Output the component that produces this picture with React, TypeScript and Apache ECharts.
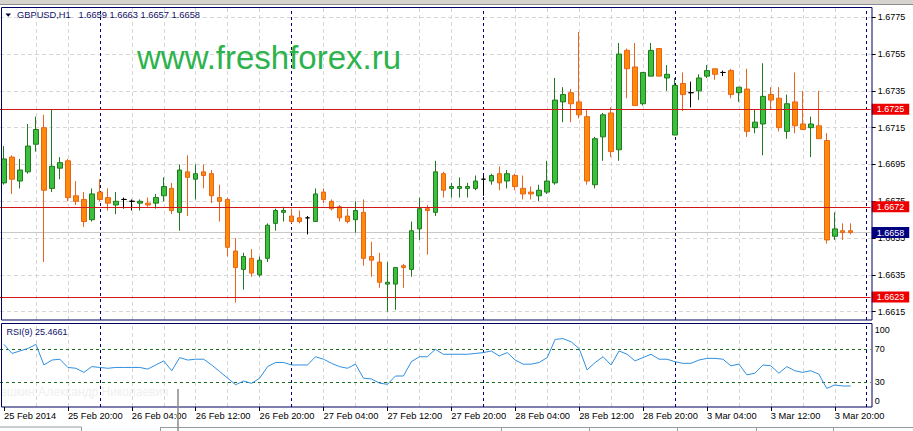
import React, { useEffect, useRef } from 'react';
import * as echarts from 'echarts';

const SYMBOL = 'GBPUSD,H1';
const RSI_NAME = 'RSI(9)';
const WATERMARK = 'www.freshforex.ru';
const FAINT_TEXT = 'ашкин Александр Николаевич';

const TIME_LABELS = [
  '25 Feb 2014', '25 Feb 20:00', '26 Feb 04:00', '26 Feb 12:00', '26 Feb 20:00',
  '27 Feb 04:00', '27 Feb 12:00', '27 Feb 20:00', '28 Feb 04:00', '28 Feb 12:00',
  '28 Feb 20:00', '3 Mar 04:00', '3 Mar 12:00', '3 Mar 20:00',
];

const OPEN = [
  1.6685, 1.6699, 1.6686, 1.6691, 1.6706, 1.6715, 1.6682, 1.6693, 1.6697, 1.6678,
  1.6676, 1.6665, 1.6680, 1.6677, 1.6673, 1.6676, 1.6675, 1.6674, 1.6674, 1.6674,
  1.6678, 1.6682, 1.6669, 1.6691, 1.6687, 1.6691, 1.6690, 1.6677, 1.6676, 1.6648,
  1.6638, 1.6644, 1.6635, 1.6644, 1.6663, 1.6669, 1.6667, 1.6666, 1.6666, 1.6664,
  1.6680, 1.6675, 1.6672, 1.6667, 1.6665, 1.6669, 1.6645, 1.6642, 1.6630, 1.6630,
  1.6640, 1.6638, 1.6660, 1.6671, 1.6669, 1.6690, 1.6682, 1.6682, 1.6682, 1.6682,
  1.6687, 1.6686, 1.6690, 1.6686, 1.6689, 1.6682, 1.6680, 1.6678, 1.6680, 1.6685,
  1.6729, 1.6734, 1.6729, 1.6721, 1.6684, 1.6710, 1.6723, 1.6703, 1.6757, 1.6748,
  1.6728, 1.6743, 1.6758, 1.6742, 1.6711, 1.6739, 1.6734, 1.6735, 1.6743, 1.6747,
  1.6745, 1.6746, 1.6734, 1.6736, 1.6715, 1.6717, 1.6733, 1.6731, 1.6713, 1.6729,
  1.6717, 1.6715, 1.6716, 1.6708, 1.6656, 1.6659, 1.6659,
];
const HIGH = [
  1.6705, 1.6700, 1.6698, 1.6717, 1.6721, 1.6722, 1.6725, 1.6699, 1.6698, 1.6686,
  1.6680, 1.6682, 1.6687, 1.6682, 1.6680, 1.6677, 1.6676, 1.6676, 1.6677, 1.6679,
  1.6688, 1.6685, 1.6695, 1.6700, 1.6695, 1.6695, 1.6692, 1.6684, 1.6677, 1.6655,
  1.6647, 1.6649, 1.6645, 1.6663, 1.6671, 1.6672, 1.6671, 1.6670, 1.6667, 1.6682,
  1.6682, 1.6676, 1.6673, 1.6671, 1.6675, 1.6676, 1.6653, 1.6647, 1.6642, 1.6639,
  1.6641, 1.6664, 1.6677, 1.6673, 1.6697, 1.6691, 1.6685, 1.6688, 1.6685, 1.6689,
  1.6689, 1.6690, 1.6694, 1.6692, 1.6690, 1.6689, 1.6683, 1.6684, 1.6697, 1.6742,
  1.6737, 1.6736, 1.6767, 1.6725, 1.6710, 1.6723, 1.6726, 1.6761, 1.6758, 1.6761,
  1.6745, 1.6761, 1.6758, 1.6749, 1.6742, 1.6745, 1.6740, 1.6744, 1.6749, 1.6747,
  1.6746, 1.6747, 1.6737, 1.6747, 1.6725, 1.6750, 1.6737, 1.6737, 1.6733, 1.6745,
  1.6735, 1.6721, 1.6735, 1.6712, 1.6669, 1.6663, 1.6663,
];
const LOW = [
  1.6684, 1.6679, 1.6682, 1.6690, 1.6702, 1.6642, 1.6680, 1.6687, 1.6675, 1.6673,
  1.6661, 1.6664, 1.6675, 1.6670, 1.6668, 1.6671, 1.6670, 1.6670, 1.6672, 1.6671,
  1.6675, 1.6668, 1.6659, 1.6667, 1.6676, 1.6682, 1.6674, 1.6664, 1.6645, 1.6620,
  1.6627, 1.6634, 1.6634, 1.6642, 1.6659, 1.6664, 1.6663, 1.6663, 1.6657, 1.6664,
  1.6674, 1.6670, 1.6664, 1.6663, 1.6658, 1.6640, 1.6634, 1.6628, 1.6615, 1.6616,
  1.6628, 1.6634, 1.6654, 1.6646, 1.6667, 1.6677, 1.6677, 1.6677, 1.6677, 1.6681,
  1.6678, 1.6684, 1.6681, 1.6682, 1.6681, 1.6676, 1.6676, 1.6675, 1.6679, 1.6684,
  1.6718, 1.6718, 1.6720, 1.6684, 1.6682, 1.6697, 1.6699, 1.6697, 1.6731, 1.6727,
  1.6727, 1.6743, 1.6743, 1.6735, 1.6711, 1.6724, 1.6726, 1.6730, 1.6742, 1.6741,
  1.6743, 1.6731, 1.6729, 1.6710, 1.6712, 1.6700, 1.6725, 1.6713, 1.6709, 1.6712,
  1.6714, 1.6699, 1.6709, 1.6652, 1.6654, 1.6654, 1.6657,
];
const CLOSE = [
  1.6698, 1.6687, 1.6692, 1.6705, 1.6714, 1.6681, 1.6694, 1.6696, 1.6677, 1.6675,
  1.6664, 1.6679, 1.6676, 1.6674, 1.6675, 1.6676, 1.6675, 1.6675, 1.6673, 1.6677,
  1.6683, 1.6670, 1.6692, 1.6688, 1.6690, 1.6689, 1.6678, 1.6675, 1.6650, 1.6639,
  1.6645, 1.6636, 1.6643, 1.6662, 1.6670, 1.6670, 1.6664, 1.6664, 1.6666, 1.6679,
  1.6676, 1.6671, 1.6666, 1.6664, 1.6670, 1.6644, 1.6643, 1.6631, 1.6631, 1.6639,
  1.6639, 1.6659, 1.6671, 1.6670, 1.6691, 1.6681, 1.6683, 1.6683, 1.6683, 1.6686,
  1.6687, 1.6689, 1.6685, 1.6690, 1.6683, 1.6679, 1.6679, 1.6681, 1.6686, 1.6730,
  1.6733, 1.6728, 1.6722, 1.6686, 1.6709, 1.6722, 1.6702, 1.6755, 1.6747, 1.6727,
  1.6745, 1.6757, 1.6743, 1.6744, 1.6738, 1.6733, 1.6734, 1.6742, 1.6746, 1.6744,
  1.6745, 1.6733, 1.6737, 1.6713, 1.6718, 1.6732, 1.6730, 1.6715, 1.6728, 1.6716,
  1.6714, 1.6717, 1.6709, 1.6654, 1.6660, 1.6658, 1.6658,
];

const RSI = [
  76, 65, 68, 71, 76, 51, 57, 58, 48, 47,
  42, 49, 48, 47, 48, 48, 48, 48, 46, 51,
  56, 44, 60, 57, 58, 58, 51, 43, 35, 27,
  31.5, 28.7, 35, 49, 54, 54, 51, 51, 51, 61,
  58, 53, 49, 47, 52, 35, 34, 29, 27.5, 37.6,
  37.6, 55, 61, 61, 70, 64, 64, 64, 64, 65,
  66, 68, 62, 66, 57, 52, 52, 54, 60, 82,
  83, 79, 71, 45, 54, 61, 51, 68, 64, 56,
  60, 64, 58, 58, 55, 53, 53, 57, 59, 59,
  58, 50, 52, 39, 41, 51, 50, 41, 49, 44,
  42, 44, 40, 22.6, 26.7, 25.5, 25.4661,
];

const PRICE_TICKS = [1.6615, 1.6635, 1.6655, 1.6675, 1.6695, 1.6715, 1.6735, 1.6755, 1.6775];
const RSI_TICKS = [0, 30, 70, 100];
const RSI_LEVELS = [70, 30];
const LEVELS = [1.6725, 1.6672, 1.6623];
const BID = 1.6658;

const SLOTS = 109; // bar slots including the empty chart shift on the right
const BARS_PER_LABEL = 8;
const BARS_PER_GRID = 4;
const BARS_PER_DAY = 24;
const DAY_OFFSET = 12;

const FONT = "'Liberation Sans', Arial, sans-serif";
const NAVY = '#10106a';
const NB = '\u00a0';
const LEVEL_RED = '#d01818';

export default function App() {
  const ref = useRef<HTMLDivElement>(null);

  useEffect(() => {
    document.body.style.margin = '0';
    if (!ref.current) return;
    const chart = echarts.init(ref.current, undefined, { renderer: 'svg' });

    const cats = Array.from({ length: SLOTS }, (_, i) =>
      i % BARS_PER_LABEL === 0 && TIME_LABELS[i / BARS_PER_LABEL] ? TIME_LABELS[i / BARS_PER_LABEL] : `#${i}`
    );
    const showLabel = (i: number) => i % BARS_PER_LABEL === 0 && i / BARS_PER_LABEL < TIME_LABELS.length;
    const candles = OPEN.map((o, i) => [o, CLOSE[i], LOW[i], HIGH[i]]);

    const vGrid: any[] = [];
    for (let i = BARS_PER_GRID; i < SLOTS; i += BARS_PER_GRID) {
      const day = i % BARS_PER_DAY === DAY_OFFSET;
      vGrid.push({
        xAxis: i,
        lineStyle: day
          ? { color: '#000070', type: [3, 3], width: 1 }
          : { color: '#d6d6d6', type: [4, 3], width: 1 },
        label: { show: false },
      });
    }

    const hGrid = PRICE_TICKS.map((v) => ({
      yAxis: v,
      lineStyle: { color: '#d6d6d6', type: [4, 3], width: 1 },
      label: { show: false },
    }));

    const boxLabel = (bg: string) => ({
      show: true,
      position: 'end',
      distance: 1,
      formatter: (p: any) => Number(p.value).toFixed(4),
      backgroundColor: bg,
      color: '#ffffff',
      fontFamily: FONT,
      fontSize: 9,
      lineHeight: 10,
      padding: [1, 5, 0, 5],
    });

    const levelLines = LEVELS.map((v) => ({
      yAxis: v,
      lineStyle: { color: LEVEL_RED, type: 'solid', width: 1, opacity: 1 },
      label: boxLabel('#ee0000'),
    }));
    const bidLine = {
      yAxis: BID,
      lineStyle: { color: '#c8c8c8', type: 'solid', width: 1 },
      label: boxLabel('#000080'),
    };

    const rsiLevelLines = RSI_LEVELS.map((v) => ({
      yAxis: v,
      lineStyle: { color: '#1f6e1f', type: [3, 3], width: 1 },
      label: { show: false },
    }));

    const tickText = { color: '#000000', fontFamily: FONT, fontSize: 9 };
    const last = OPEN.length - 1;
    const header = `${SYMBOL}${NB}${NB}${NB}${OPEN[last].toFixed(4)}${NB}${HIGH[last].toFixed(4)}${NB}${LOW[last].toFixed(4)}${NB}${CLOSE[last].toFixed(4)}`;

    const option: any = {
      animation: false,
      backgroundColor: '#ffffff',
      grid: [
        { left: -1.3, top: 7.3, width: SLOTS * 8, height: 312.7 },
        { left: -1.3, top: 324.6, width: SLOTS * 8, height: 82.4 },
      ],
      xAxis: [
        {
          type: 'category', gridIndex: 0, data: cats, boundaryGap: true,
          axisLine: { show: false }, axisTick: { show: false }, axisLabel: { show: false }, splitLine: { show: false },
        },
        {
          type: 'category', gridIndex: 1, data: cats, boundaryGap: true,
          axisLine: { show: false },
          axisTick: { show: true, interval: (i: number) => showLabel(i), alignWithLabel: true, length: 4, lineStyle: { color: '#000000' } },
          axisLabel: {
            ...tickText, fontSize: 9.3, interval: (i: number) => showLabel(i), align: 'left', margin: 4,
            formatter: (v: string) => (v.startsWith('#') ? '' : v),
          },
          splitLine: { show: false },
        },
      ],
      yAxis: [
        {
          type: 'value', gridIndex: 0, position: 'right', offset: 1, min: 1.66105, max: 1.67804,
          axisLine: { show: false }, splitLine: { show: false },
          axisTick: { show: true, customValues: PRICE_TICKS, length: 4, lineStyle: { color: '#000000' } },
          axisLabel: { ...tickText, customValues: PRICE_TICKS, margin: 6, formatter: (v: number) => v.toFixed(4) },
        },
        {
          type: 'value', gridIndex: 1, position: 'right', offset: 1, min: 0, max: 100,
          axisLine: { show: false }, splitLine: { show: false },
          axisTick: { show: false },
          axisLabel: {
            ...tickText, customValues: RSI_TICKS, margin: 3,
            formatter: (v: number) => (v === 100 ? '{t|100}' : v === 0 ? '{b|0}' : String(v)),
            rich: {
              t: { ...tickText, padding: [11, 0, 0, 0] },
              b: { ...tickText, padding: [0, 0, 12, 0] },
            },
          },
        },
      ],
      series: [
        {
          type: 'candlestick', xAxisIndex: 0, yAxisIndex: 0, z: 3,
          data: candles, barWidth: 5,
          itemStyle: {
            color: '#3cbf3c', color0: '#ff8a0a',
            borderColor: '#1f7a1f', borderColor0: '#e8641b',
            borderColorDoji: '#000000', borderWidth: 1,
          },
          markLine: {
            silent: true, symbol: 'none', z: 1, animation: false, precision: 6,
            data: [...hGrid, ...vGrid, bidLine],
          },
        },
        {
          name: 'levels', type: 'line', xAxisIndex: 0, yAxisIndex: 0, z: 4,
          data: [], symbol: 'none', color: LEVEL_RED,
          lineStyle: { color: LEVEL_RED },
          markLine: {
            silent: true, symbol: 'none', z: 6, animation: false, precision: 6,
            lineStyle: { color: LEVEL_RED, type: 'solid', width: 1 },
            data: levelLines,
          },
        },
        {
          type: 'line', xAxisIndex: 1, yAxisIndex: 1, z: 3,
          data: RSI, symbol: 'none', showSymbol: false,
          lineStyle: { color: '#2f8fe0', width: 1 },
          markLine: {
            silent: true, symbol: 'none', z: 1, animation: false, precision: 4,
            data: [...vGrid, ...rsiLevelLines],
          },
        },
      ],
      graphic: [
        { type: 'rect', shape: { x: 0, y: 0, width: 913, height: 4 }, style: { fill: '#d6d3ce' }, z: 20 },
        { type: 'line', shape: { x1: 0, y1: 4.5, x2: 913, y2: 4.5 }, style: { stroke: '#8c8c8c', lineWidth: 1 }, z: 20 },
        { type: 'rect', shape: { x: 1.5, y: 7.5, width: 870.5, height: 312.5 }, style: { fill: 'none', stroke: '#000060', lineWidth: 1 }, z: 20 },
        { type: 'rect', shape: { x: 1.5, y: 323.5, width: 870.5, height: 83.5 }, style: { fill: 'none', stroke: '#000060', lineWidth: 1 }, z: 20 },
        { type: 'polygon', shape: { points: [[5.5, 13.5], [11, 13.5], [8.25, 16.8]] }, style: { fill: '#000040' }, z: 21 },
        {
          type: 'text', x: 17, y: 15, z: 21,
          style: { text: header, fill: NAVY, fontFamily: FONT, fontSize: 9.3, verticalAlign: 'middle' },
        },
        {
          type: 'text', x: 6.5, y: 332.3, z: 21,
          style: { text: `${RSI_NAME} ${RSI[RSI.length - 1].toFixed(4)}`, fill: NAVY, fontFamily: FONT, fontSize: 9, verticalAlign: 'middle' },
        },
        {
          type: 'text', x: 137, y: 57, z: 21,
          style: { text: WATERMARK, fill: '#2db34d', fontFamily: FONT, fontSize: 33, verticalAlign: 'middle' },
        },
        {
          type: 'text', x: 0, y: 392, z: 0,
          style: { text: FAINT_TEXT, fill: '#efefef', fontFamily: FONT, fontSize: 12, verticalAlign: 'middle' },
        },
        { type: 'line', shape: { x1: 178, y1: 389, x2: 178, y2: 431 }, style: { stroke: '#8a8a8a', lineWidth: 1.5 }, z: 22 },
        { type: 'polyline', shape: { points: [[0, 427], [81.5, 427], [81.5, 431]] }, style: { stroke: '#9a9a9a', lineWidth: 1, fill: 'none' }, z: 20 },
        { type: 'line', shape: { x1: 160, y1: 427.5, x2: 913, y2: 427.5 }, style: { stroke: '#9a9a9a', lineWidth: 1 }, z: 20 },
        ...[160.5, 501.5, 589.5, 677.5, 756.5, 833.5].map((x) => ({
          type: 'line', shape: { x1: x, y1: 427.5, x2: x, y2: 431 }, style: { stroke: '#9a9a9a', lineWidth: 1 }, z: 20,
        })),
      ],
    };

    chart.setOption(option);
    return () => chart.dispose();
  }, []);

  return <div ref={ref} style={{ width: 913, height: 431 }} />;
}
